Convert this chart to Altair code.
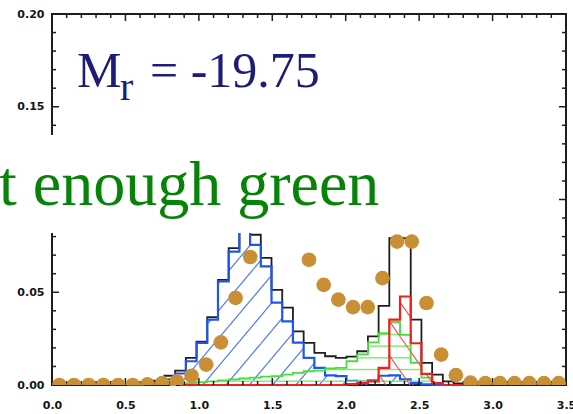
import math
import altair as alt
import pandas as pd

# ---------------- data ----------------
XMAX, YMAX = 3.5, 0.20
NBINS = 48                       # histogram bins over 0..3.5
BW = XMAX / NBINS

# histogram values per bin, starting at bin index *_start (bin centre = k*BW)
black_start = 0
black_vals = [0, 0, 0, 0, 0, 0, 0, 0, 0,
              0.0008, 0.0024, 0.005, 0.0078, 0.0146, 0.0234, 0.0366, 0.0567, 0.0738,
              0.090, 0.081, 0.0685, 0.0513, 0.0417, 0.0289, 0.0227, 0.0173, 0.0155,
              0.0146, 0.0153, 0.0182, 0.0262, 0.0427, 0.0791, 0.0791, 0.0352, 0.0119,
              0.0056, 0.002, 0.0008, 0, 0, 0, 0, 0, 0, 0, 0, 0]

blue_start = 8
blue_vals = [0, 0.0005, 0.0015, 0.003, 0.0062, 0.0128, 0.0227, 0.0352, 0.0558, 0.0719,
             0.088, 0.0755, 0.064, 0.0444, 0.0343, 0.0228, 0.0146, 0.0092, 0.0052,
             0.0048, 0.0022, 0.0018, 0.0025, 0.005, 0.0052, 0.003, 0.001, 0.0003, 0]

green_start = 12
green_vals = [0.0005, 0.001, 0.0015, 0.002, 0.0025, 0.003, 0.0035, 0.004, 0.0045,
              0.0048, 0.0056, 0.0065, 0.0074, 0.0078, 0.009, 0.0092, 0.0128, 0.0165,
              0.023, 0.028, 0.034, 0.027, 0.012, 0.004, 0.001, 0]

red_start = 13
red_vals = [0, 0, 0, 0, 0, 0, 0, 0, 0, 0, 0, 0, 0, 0, 0,
            0.0005, 0.001, 0.002, 0.0092, 0.0352, 0.0477, 0.0225, 0.006, 0.001,
            0, 0, 0]

dot_x = [0.05, 0.15, 0.25, 0.35, 0.45, 0.55, 0.65, 0.75, 0.85, 0.95, 1.05, 1.15,
         1.25, 1.35, 1.45, 1.55, 1.65, 1.75, 1.85, 1.95, 2.05, 2.15, 2.25, 2.35,
         2.45, 2.55, 2.65, 2.75, 2.85, 2.95, 3.05, 3.15, 3.25, 3.35, 3.45]
dot_y = [0, 0, 0, 0, 0, 0, 0.0003, 0.001, 0.002, 0.005, 0.011, 0.023,
         0.047, 0.069, 0.095, 0.100, 0.090, 0.0675, 0.054, 0.046, 0.042, 0.042,
         0.0576, 0.0773, 0.0773, 0.0442, 0.0164, 0.0053, 0.0013, 0.001, 0.001,
         0.001, 0.001, 0.001, 0.001]

x_major = [0.0, 0.5, 1.0, 1.5, 2.0, 2.5, 3.0, 3.5]
y_major = [0.00, 0.05, 0.10, 0.15, 0.20]
y_labels = [0.00, 0.05, 0.15, 0.20]      # 0.10 is hidden behind the text box
x_minor = [round(i * 0.1, 2) for i in range(36) if i % 5 != 0]
y_minor = [round(i * 0.01, 3) for i in range(21) if i % 5 != 0]

mag_label = "M"
mag_sub = "r"
mag_value = "= -19.75"
note_text = "t enough green"

# ---------------- layout / style ----------------
W, H = 514, 371
PAD = {"left": 52, "top": 14, "right": 7, "bottom": 29}

C_BLACK = "#1e1e1e"
C_BLUE = "#1f55ee"
C_BLUE_H = "#4f78f0"
C_GREEN = "#44e03a"
C_GREEN_H = "#7be870"
C_RED = "#ee2020"
C_RED_H = "#f05050"
C_DOT = "#c98f35"

xscale = alt.Scale(domain=[0, XMAX], nice=False, zero=False)
yscale = alt.Scale(domain=[0, YMAX], nice=False, zero=False)
xaxis = alt.Axis(title=None, values=x_major, format=".1f", ticks=False, domain=False,
                 grid=False, labelFont="DejaVu Sans", labelFontWeight="bold",
                 labelFontSize=11, labelColor="#151515", labelPadding=14,
                 labelFlush=False, labelOverlap=False)
yaxis = alt.Axis(title=None, values=y_labels, format=".2f", ticks=False, domain=False,
                 grid=False, labelFont="DejaVu Sans", labelFontWeight="bold",
                 labelFontSize=11, labelColor="#151515", labelPadding=8,
                 labelOverlap=False)


def X(f):
    return alt.X(f, type="quantitative", scale=xscale, axis=xaxis)


def Y(f):
    return alt.Y(f, type="quantitative", scale=yscale, axis=yaxis)


def step_df(start, vals):
    rows = [{"x": (start - 1) * BW, "y": 0.0}] if start > 0 else []
    for i, v in enumerate(vals):
        rows.append({"x": (start + i) * BW, "y": v})
    rows.append({"x": (start + len(vals)) * BW, "y": 0.0})
    return pd.DataFrame(rows)


def rects(start, vals):
    out = []
    for i, v in enumerate(vals):
        if v > 0:
            k = start + i
            out.append(((k - 0.5) * BW / XMAX * W, (k + 0.5) * BW / XMAX * W, v / YMAX * H))
    return out


def diag_hatch(rs, angle, spacing, s_ref, direction):
    t = math.tan(math.radians(angle))
    hmax = max(r[2] for r in rs)
    lo = min(r[0] for r in rs) - hmax / t - spacing
    hi = max(r[1] for r in rs) + hmax / t + spacing
    segs = []
    for j in range(math.floor((lo - s_ref) / spacing), math.ceil((hi - s_ref) / spacing) + 1):
        s = s_ref + j * spacing
        for a, b, h in rs:
            if direction > 0:
                ylo, yhi = max(0, (a - s) * t), min(h, (b - s) * t)
                if yhi > ylo:
                    segs.append((s + ylo / t, ylo, s + yhi / t, yhi))
            else:
                ylo, yhi = max(0, (s - b) * t), min(h, (s - a) * t)
                if yhi > ylo:
                    segs.append((s - ylo / t, ylo, s - yhi / t, yhi))
    return segs


def horiz_hatch(rs, spacing, offset):
    hmax = max(r[2] for r in rs)
    segs = []
    yv = offset
    while yv < hmax:
        for a, b, h in rs:
            if h > yv:
                segs.append((a, yv, b, yv))
        yv += spacing
    return segs


def seg_df(segs):
    return pd.DataFrame([{"x": a * XMAX / W, "y": b * YMAX / H,
                          "x2": c * XMAX / W, "y2": d * YMAX / H} for a, b, c, d in segs])


def hatch_layer(segs, color, width):
    return alt.Chart(seg_df(segs)).mark_rule(color=color, strokeWidth=width).encode(
        x=X("x"), y=Y("y"), x2="x2", y2="y2")


def step_layer(df, color, width):
    return alt.Chart(df).mark_line(interpolate="step", color=color, strokeWidth=width).encode(
        x=X("x"), y=Y("y"))


layers = []
layers.append(step_layer(step_df(black_start, black_vals), C_BLACK, 1.8))
layers.append(hatch_layer(diag_hatch(rects(blue_start, blue_vals), 50, 23.3, 150.8, 1), C_BLUE_H, 1.2))
layers.append(step_layer(step_df(blue_start, blue_vals), C_BLUE, 2.2))
layers.append(hatch_layer(horiz_hatch(rects(green_start, green_vals), 11.67, 3.8), C_GREEN_H, 1.4))
layers.append(step_layer(step_df(green_start, green_vals), C_GREEN, 1.8))
layers.append(hatch_layer(diag_hatch(rects(red_start, red_vals), 55, 24, 382, -1), C_RED_H, 1.2))
layers.append(step_layer(step_df(red_start, red_vals), C_RED, 2.2))

# inward ticks (IDL style)
def xticks(vals, ln):
    df = pd.DataFrame({"x": vals})
    bot = alt.Chart(df).mark_rule(color=C_BLACK, strokeWidth=1.5).encode(
        x=X("x"), y=alt.value(H), y2=alt.value(H - ln))
    top = alt.Chart(df).mark_rule(color=C_BLACK, strokeWidth=1.5).encode(
        x=X("x"), y=alt.value(0), y2=alt.value(ln))
    return [bot, top]


def yticks(vals, ln):
    df = pd.DataFrame({"y": vals})
    left = alt.Chart(df).mark_rule(color=C_BLACK, strokeWidth=1.5).encode(
        y=Y("y"), x=alt.value(0), x2=alt.value(ln))
    right = alt.Chart(df).mark_rule(color=C_BLACK, strokeWidth=1.5).encode(
        y=Y("y"), x=alt.value(W), x2=alt.value(W - ln))
    return [left, right]


layers += xticks(x_major, 7) + xticks(x_minor, 4) + yticks(y_major, 7) + yticks(y_minor, 4)

dots = alt.Chart(pd.DataFrame({"x": dot_x, "y": dot_y})).mark_circle(
    color=C_DOT, opacity=1, size=215, clip=True).encode(x=X("x"), y=Y("y"))
layers.append(dots)

one = alt.Data(values=[{"a": 1}])
box = alt.Chart(one).mark_rect(color="white").encode(
    x=alt.value(-54), x2=alt.value(333), y=alt.value(121), y2=alt.value(219))
layers.append(box)

serif = "Liberation Serif"
layers.append(alt.Chart(one).mark_text(text=mag_label, font=serif, fontSize=50, color="#1d1d78",
                                       align="left", baseline="alphabetic").encode(
    x=alt.value(25), y=alt.value(73)))
layers.append(alt.Chart(one).mark_text(text=mag_sub, font=serif, fontSize=40, color="#1d1d78",
                                       align="left", baseline="alphabetic").encode(
    x=alt.value(68), y=alt.value(86)))
layers.append(alt.Chart(one).mark_text(text=mag_value, font=serif, fontSize=50, color="#1d1d78",
                                       align="left", baseline="alphabetic").encode(
    x=alt.value(98), y=alt.value(73)))
layers.append(alt.Chart(one).mark_text(text=note_text, font=serif, fontSize=64, color="#078407",
                                       align="left", baseline="alphabetic").encode(
    x=alt.value(-53), y=alt.value(191)))

chart = alt.layer(*layers).properties(
    width=W, height=H,
    autosize=alt.AutoSizeParams(type="none"),
    padding=PAD,
    background="white",
).configure_view(stroke=C_BLACK, strokeWidth=2)

chart.save("out.html", embed_options={"renderer": "svg", "actions": False})
